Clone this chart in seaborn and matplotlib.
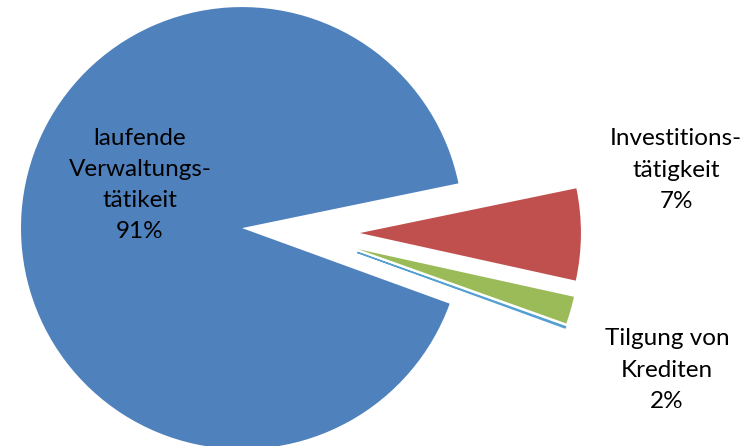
import matplotlib
matplotlib.use("Agg")
import matplotlib.pyplot as plt
import numpy as np
import seaborn as sns

# Finanzierungsanteile nach Verwendungszweck
categories = ["laufende\nVerwaltungs-\ntätikeit", "Investitions-\ntätigkeit",
              "Tilgung von\nKrediten", "Sonstiges"]
shares = [91.2, 6.7, 2.0, 0.1]
colors = ["#4F81BD", "#C0504D", "#9BBB59", "#55A0D3"]
show_label = [True, True, True, False]

# how far each slice is pulled out of the pie, and in which direction (degrees)
pull_dist = [0.0, 0.534, 0.534, 0.534]
pull_angle = [0.0, -2.4, -10.3, -11.9]

sns.set_theme(style="white")
plt.rcParams["font.family"] = ["Lato", "DejaVu Sans"]

fig = plt.figure(figsize=(7.51, 4.46), dpi=100)
ax = fig.add_axes([0, 0, 1, 1])

wedges, _ = ax.pie(
    shares,
    colors=colors,
    startangle=-20,
    counterclock=False,
    radius=1.0,
    wedgeprops=dict(linewidth=0),
)
for w, d, a in zip(wedges, pull_dist, pull_angle):
    t = np.deg2rad(a)
    w.set_center((d * np.cos(t), d * np.sin(t)))

# the near-zero slice is drawn as a thin line
wedges[3].set_edgecolor(colors[3])
wedges[3].set_linewidth(1.0)

label_pos = [(-0.462, 0.195), (1.964, 0.262), (1.923, -0.643)]
for name, val, pos, show in zip(categories, shares, label_pos, show_label):
    if not show:
        continue
    ax.text(pos[0], pos[1], f"{name}\n{val:.0f}%", ha="center", va="center",
            fontsize=17.5, color="black", linespacing=1.6)

ax.set_xlim(-1.095, 2.303)
ax.set_ylim(-0.986, 1.032)
ax.set_aspect("auto")
ax.axis("off")

fig.savefig("out.png", dpi=100, facecolor="white")
